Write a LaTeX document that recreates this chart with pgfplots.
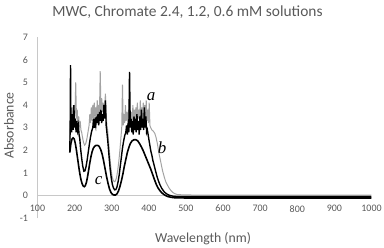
\documentclass[border=0pt]{standalone}
\usepackage{fontspec}
\setmainfont{Carlito}
\newfontfamily\lblfont{Liberation Serif}
\usepackage{pgfplots}
\pgfplotsset{compat=1.18}
\definecolor{txt}{HTML}{595959}
\definecolor{axc}{HTML}{C8C8C8}
\definecolor{ga}{HTML}{A3A3A3}
\pgfplotstableread{
x y
187 2.4
189 3.3
191 3.0
193 3.9
195 3.2
197 4.0
199 3.3
201 3.6
203 5.0
205 3.4
207 3.8
209 3.1
211 3.5
213 3.0
215 3.3
217 2.9
219 2.8
221 2.6
224 2.35
227 2.23
230 2.3
233 2.5
236 2.8
239 3.1
241 3.6
243 3.2
245 3.9
247 3.3
249 4.0
251 3.4
253 4.1
255 3.5
257 3.9
259 3.5
261 4.2
263 3.6
265 4.0
267 3.7
269 5.5
271 3.8
273 4.3
275 3.7
277 4.1
279 3.6
281 3.9
283 4.5
285 3.6
287 3.1
289 2.9
292 2.3
295 1.7
298 1.2
301 0.85
304 0.68
307 0.62
310 0.65
313 0.8
316 1.1
319 1.5
322 2.0
325 2.6
327 3.0
329 4.9
331 3.1
333 3.6
335 3.2
337 4.0
339 3.3
341 3.7
343 3.2
345 3.8
347 3.3
349 3.6
351 3.1
353 3.7
355 3.2
357 4.0
359 3.3
361 3.8
363 3.2
365 3.9
367 3.3
369 4.1
371 3.4
373 3.8
375 3.3
377 4.2
379 3.4
381 3.9
383 3.3
385 4.1
387 3.4
389 4.0
391 3.3
393 4.2
395 3.3
397 3.8
399 3.2
401 4.1
403 3.1
405 3.0
408 2.9
412 2.85
416 2.75
419 2.6
423 2.3
427 1.9
432 1.5
437 1.1
442 0.8
446 0.6
450 0.47
455 0.33
460 0.22
465 0.14
470 0.09
477 0.05
490 0.04
520 0.03
1000 0.03
}\dataA
\pgfplotstableread{
x y
187 1.95
188 3.0
189 5.76
190 3.2
192 2.8
194 3.6
196 2.9
198 4.0
200 3.0
202 3.4
204 2.8
206 3.3
208 2.9
210 3.1
212 2.7
214 2.5
216 2.1
219 1.65
222 1.3
225 1.08
228 1.1
231 1.3
234 1.6
237 1.95
240 2.3
243 2.6
246 2.85
249 3.0
251 3.4
253 3.0
255 3.3
257 3.1
259 3.5
261 3.2
263 3.6
265 3.1
267 3.7
269 3.3
271 3.8
273 3.2
275 3.6
277 3.3
279 4.0
281 3.4
283 4.2
285 3.1
287 2.8
290 2.3
293 1.7
296 1.15
299 0.75
302 0.48
305 0.33
308 0.26
311 0.27
314 0.38
317 0.6
320 0.9
323 1.3
326 1.7
329 2.1
332 2.4
335 2.65
338 2.8
340 3.1
342 2.7
344 3.2
346 2.8
348 5.46
350 3.0
352 3.4
354 2.8
356 3.3
358 2.7
360 3.5
362 2.9
364 3.4
366 2.8
368 3.6
370 2.9
372 3.3
374 2.7
376 3.5
378 2.9
380 3.8
382 3.0
384 3.4
386 2.9
388 3.9
390 3.0
392 3.5
394 2.8
396 2.9
399 2.6
402 2.3
405 2.0
408 1.8
411 1.55
414 1.36
418 1.1
422 0.85
426 0.65
430 0.48
435 0.32
441 0.18
447 0.09
455 0.02
465 -0.02
477 -0.04
500 -0.04
1000 -0.04
}\dataB
\pgfplotstableread{
x y
187 1.9
190 2.3
193 2.5
196 2.55
199 2.5
202 2.3
205 2.0
208 1.65
211 1.3
214 0.98
217 0.72
220 0.54
223 0.43
226 0.4
229 0.45
232 0.6
235 0.85
238 1.15
241 1.45
244 1.72
247 1.93
250 2.08
254 2.18
258 2.22
262 2.22
266 2.18
270 2.05
274 1.85
278 1.55
282 1.2
286 0.85
290 0.55
294 0.3
298 0.14
302 0.06
306 0.03
310 0.03
314 0.08
318 0.2
322 0.4
326 0.65
330 0.95
334 1.3
338 1.6
342 1.9
346 2.12
350 2.3
355 2.42
360 2.47
365 2.47
370 2.42
375 2.3
380 2.15
385 1.98
390 1.78
395 1.58
400 1.38
405 1.18
410 0.95
415 0.72
420 0.5
425 0.34
430 0.22
435 0.13
440 0.06
445 0.01
450 -0.03
460 -0.07
470 -0.09
500 -0.1
1000 -0.1
}\dataC
\begin{document}
\begin{tikzpicture}
\begin{axis}[
  scale only axis, width=334bp, height=181.4bp,
  xmin=100, xmax=1000, ymin=-1, ymax=7,
  axis x line=middle, axis y line=left,
  axis line style={axc, -, line width=0.75bp},
  hide obscured x ticks=false, hide obscured y ticks=false,
  xtick={100,200,...,1000}, ytick={-1,0,...,7},
  major tick length=0pt,
  tick label style={font=\fontsize{10}{12}\selectfont, text=txt},
  /pgf/number format/assume math mode=true,
  /pgf/number format/1000 sep={},
  xticklabel style={yshift=-6bp},
  yticklabel style={xshift=-6bp},
  clip=false,
]
\coordinate (LL) at (rel axis cs:0,0);
\coordinate (UR) at (rel axis cs:1,1);
\addplot[ga, line width=1bp] table[x=x,y=y] {\dataA};
\addplot[black, line width=1.4bp] table[x=x,y=y] {\dataB};
\addplot[black, line width=1.6bp] table[x=x,y=y] {\dataC};
\node[font=\lblfont\itshape\fontsize{17}{19}\selectfont] at (axis cs:406,4.35) {a};
\node[font=\lblfont\itshape\fontsize{17}{19}\selectfont] at (axis cs:436,2.1) {b};
\node[font=\lblfont\itshape\fontsize{17}{19}\selectfont] at (axis cs:265,0.65) {c};
\end{axis}
\node[text=txt, font=\fontsize{15.5}{18}\selectfont] at ([xshift=150bp,yshift=206.4bp]LL) {MWC, Chromate 2.4, 1.2, 0.6 mM solutions};
\node[text=txt, font=\fontsize{13.8}{16}\selectfont] at ([xshift=165.5bp,yshift=-20bp]LL) {Wavelength (nm)};
\node[text=txt, font=\fontsize{13.8}{16}\selectfont, rotate=90] at ([xshift=-28.5bp,yshift=93bp]LL) {Absorbance};
\pgfresetboundingbox
\useasboundingbox ([xshift=-37.5bp,yshift=-29.6bp]LL) rectangle ([xshift=12.5bp,yshift=37bp]UR);
\end{tikzpicture}
\end{document}
